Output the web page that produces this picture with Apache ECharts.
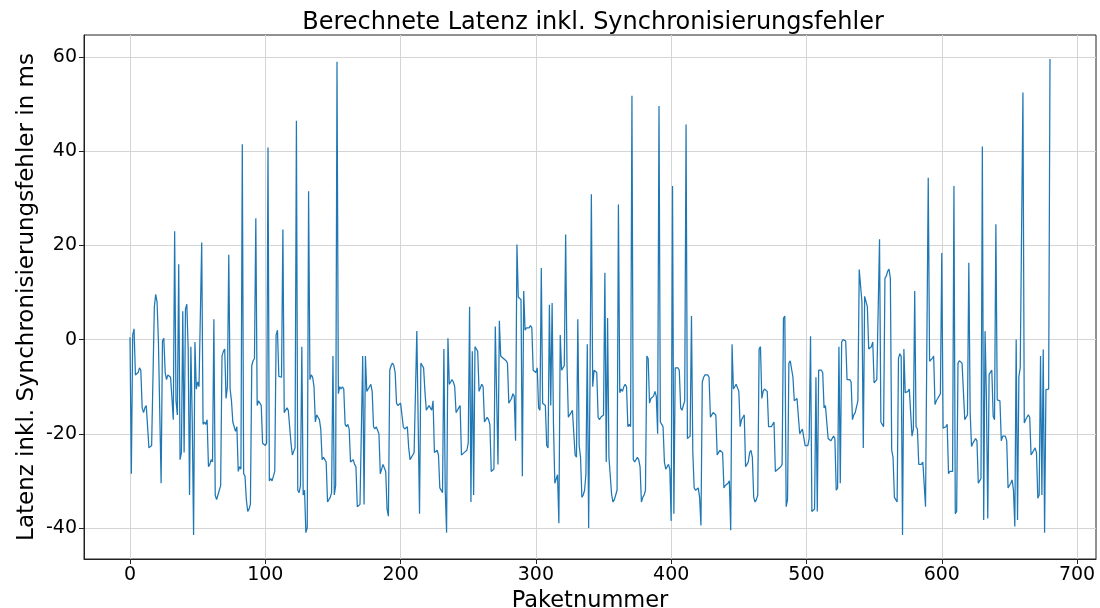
<!DOCTYPE html>
<html>
<head>
<meta charset="utf-8">
<script src="https://cdn.jsdelivr.net/npm/echarts@6/dist/echarts.min.js"></script>
<style>
  html, body { margin: 0; padding: 0; background: #fff; }
  #chart { width: 1100px; height: 608px; }
</style>
</head>
<body>
<div id="chart"></div>
<script>
// Latency per packet (ms), packets 0..680, in consecutive blocks
const latency000 = [
  0.5,-28.5,1,2.3,-7.5,-7.5,-7,-6,-6.5,-14.5,
  -15.5,-14.5,-14,-14,-23,-23,-22.5,-22.5,7,9.6,
  8,-0.3,-0.6,-30.5,-0.3,0.3,-7,-8.5,-7.5,-7.5,
  -8,-8,-17,23,-13,-16,16,-25.5,-24,6,
  -24,6.5,7.5,-2,-33,-1.5,-17,-41.5,-0.5,-10.5,
  -9,-10,-10,20.6,-18
];
const latency055 = [
  -17.5,-18,-17,-27,-26.5,-25.5,-26,4.3,-33,-34,
  -33,-32,-31,-3.5,-2.5,-2,-12.5,-10,18,-10.5,
  -13,-17.5,-18.5,-19.5,-18.5,-28,-27,-27.5,41.5,-28.5,
  -29,-34,-36.5,-36,-35,-5.5,-4.5,-4,25.8,-14,
  -13,-13.5,-14,-22,-22,-22.5,-22,40.8,-30,-29.5,
  -30,-29,-28,1,2,-7.8
];
const latency111 = [
  -7.5,-8,23.4,-15.5,-15,-14.5,-15,-15,-22,-24.5,
  -24.5,-23,46.5,-32,-32.5,-31,-1.5,-33,-32,-41,
  -40,31.5,-8.5,-7.5,-8,-10,-17.5,-16,-16.5,-17,
  -19,-25.5,-25,-25.5,-26,-34.5,-34.5,-33.5,-32.5,-3.5,
  -33,-31,59,-11.5,-10,-10.5,-10,-10.5,-18,-18.5,
  -18,-19,-26,-26,-25.5,-26.5
];
const latency167 = [
  -27,-35.5,-35.5,-35,-35,-3.5,-35,-3.5,-11,-11,
  -10,-9.5,-11,-18.5,-19,-18.5,-18.5,-20,-28.5,-27.5,
  -26.5,-26.5,-28,-36,-37.5,-6.5,-5.5,-5,-5.5,-7,
  -13.5,-14,-14,-13.5,-13.5,-18.5,-19,-19,-18.5,-23,
  -25.5,-25.5,-24.5,-24,-24,1.8,2,-37,-5,-5.5,
  -6,-11,-15,-14.5,-14,-14.5,-15
];
const latency224 = [
  -13,-24,-24,-23.5,-24.5,-31.5,-31.5,-32.5,-2,-32,
  -41,0.3,-9.5,-9,-8.5,-9,-10,-15.5,-15,-14.5,
  -14,-24.5,-24.5,-24,-24,-23.5,-22,7,-34.5,-2.5,
  -33,-1.5,-2,-2.5,-11,-11,-9.5,-10,-17.5,-17,
  -16.5,-17,-18,-28,-28,-27.5,2.8,3,-26.5,4,
  -3.5,-3.5,-4,-4,-4.5,-5,-13.5
];
const latency281 = [
  -13.5,-12.5,-11.5,-12,-21.5,20.2,9,9.2,8.5,-29,
  10.3,2,2.5,2.5,2.5,3,2.5,-6.5,-6.5,-7,
  -6,-14.5,-15,15.2,-13.5,-13.5,-14,-22.5,-23,7.4,
  -14,7.8,-18,-30.5,-30.5,-28.7,-39,1,-6.5,-6,
  -5.5,22.3,-5.3,-16.5,-16,-15.5,-15,-15,-24.5,-25,
  4.3,-22.5,-25,-33.5,-33,-32,-28.5
];
const latency338 = [
  -1,-40,-9,30.9,-10,-6.5,-6.5,-7,-16.5,-17,
  -16.5,-16.5,-16,14.2,-26,4.6,-25,-25,-33,-34.5,
  -34,-33,-32,28.7,-11.3,-10.5,-11,-10,-9.5,-10,
  -18.5,-18,-18.5,51.8,-25.5,-26,-25.5,-25,-25.5,-27,
  -34.5,-33.5,-33,-32,-3.5,-4,-13.5,-12.5,-12.5,-12,
  -11,-12,-20,49.6,-17.5,-18,-18.5,-26
];
const latency396 = [
  -27.5,-27,-26.5,-27.5,-38.5,32.6,-37,-6,-6,-6,
  -6.5,-14.5,-15,-14,-13,45.7,-21,-21,-20.5,5,
  -24,-31.5,-32,-32,-31.5,-33.5,-39.5,-9,-8,-7.5,
  -7.5,-7.5,-8,-16.5,-16,-15.5,-15.5,-16,-24.5,-24,
  -23.5,-23.5,-24,-31.5,-31,-31,-30.5,-30,-40.5,-1,
  -10.5,-10,-9.5,-9.5,-11,-18.5
];
const latency452 = [
  -17,-16.5,-16,-27,-26.5,-26,-24,-23.5,-25,-33.5,
  -34.5,-34,-33,-2,-1.5,-12.5,-11,-10.5,-10.5,-11,
  -18.5,-18.5,-18.5,-18,-17.5,-28,-28,-27.5,-27.5,-27,
  -26.5,4.5,5,-35.5,-34,-5,-4.5,-4.5,-8,-13,
  -13,-12.5,-12.5,-20,-19.5,-19,-19,-22.5,-22.5,-22.5,
  -21,0.7,-36.5,-36.5,-36,-8
];
const latency508 = [
  -36.5,-6.5,-6.5,-6.5,-7,-14.5,-14,-14,-21,-21,
  -21.5,-21,-20.5,-21,-32,-31.5,-1.5,-30.5,-0.5,0,
  0,-0.3,-8.5,-8.5,-8.5,-9,-17,-16,-15.5,-15.5,
  -13,14.9,15.2,8,-23,9.2,9.6,7,-2,-2,
  -1.5,-0.5,-9.2,-9,-8.5,-8.5,21.3,-17.5,-18,-18.5,
  13,13.5,14.5,15,13,-23.5,-25
];
const latency565 = [
  -33.5,-34,-34.5,-4,-3,-3.5,-41.5,-2,-11.3,-11,
  -11,-10.5,-10.5,-20.5,-19,10.3,-18.5,-19,-26.5,-26.5,
  -26.5,-26,-26,-35.5,-35.5,34.4,-4.6,-4.3,-4,-3.5,
  -13.8,-13,-12.5,-12,-11.5,18.4,-18.8,-19,-18.5,-18,
  -28.5,-28,-28,-28,32.6,-37,-36.5,-5,-4.5,-4.5,
  -5,-11,-17,-16.5,-16,16.3,-15.6,-22.7
];
const latency623 = [
  -22,-21.5,-21,-21.5,-30.5,-30,-29.5,41,-38.3,1.8,
  -12,-38,-7.4,-7,-6.5,-16.3,-17,24.5,-12.8,-13,
  -13,-21.5,-20.5,-20.5,-20.5,-21.5,-31.5,-31,-30.5,-29.8,
  -32,-39.7,0,-38.3,-7.8,-6,-6,52.5,-17.7,-17,
  -16.5,-16,-16.5,-24.5,-24,-23.5,-23,-24,-33.7,-33,
  -3.5,-33,-2.1,-41,-10.6,-10.3,-10.5,59.6
];

const xTicks = [0, 100, 200, 300, 400, 500, 600, 700];
const yTicks = [-40, -20, 0, 20, 40, 60];

const latency = [].concat(
  latency000, latency055, latency111, latency167, latency224, latency281,
  latency338, latency396, latency452, latency508, latency565, latency623
);
const points = latency.map((v, i) => [i, v]);

const FONT = 'DejaVu Sans';
const chart = echarts.init(document.getElementById('chart'), null, { renderer: 'canvas' });

chart.setOption({
  backgroundColor: '#ffffff',
  animation: false,
  title: {
    text: 'Berechnete Latenz inkl. Synchronisierungsfehler',
    left: 588,
    top: 6,
    textAlign: 'center',
    textStyle: { fontFamily: FONT, fontSize: 24, fontWeight: 'normal', color: '#000' }
  },
  // vertical axis title, placed directly
  graphic: [{
    type: 'text',
    x: 27,
    y: 297,
    rotation: Math.PI / 2,
    style: {
      text: 'Latenz inkl. Synchronisierungsfehler in ms',
      font: '23px "DejaVu Sans"',
      fill: '#000',
      align: 'center',
      verticalAlign: 'middle'
    }
  }],
  grid: {
    left: 84, top: 35, width: 1012, height: 524,
    outerBoundsMode: 'none',
    containLabel: false,
    show: true, borderColor: '#222', borderWidth: 1, backgroundColor: 'transparent'
  },
  xAxis: {
    type: 'value',
    min: -34, max: 714,
    name: 'Paketnummer',
    nameLocation: 'middle',
    nameGap: 28,
    nameTextStyle: { fontFamily: FONT, fontSize: 22.5, color: '#000' },
    axisLine: { show: true, onZero: false, lineStyle: { color: '#222', width: 1 } },
    axisTick: { show: true, customValues: xTicks, length: 5, lineStyle: { color: '#222' } },
    axisLabel: { customValues: xTicks, fontFamily: FONT, fontSize: 19, color: '#000', margin: 7 },
    splitLine: { show: true, lineStyle: { color: '#d5d5d5', width: 1 } }
  },
  yAxis: {
    type: 'value',
    min: -46.6, max: 64.7,
    axisLine: { show: true, onZero: false, lineStyle: { color: '#222', width: 1 } },
    axisTick: { show: true, customValues: yTicks, length: 5, lineStyle: { color: '#222' } },
    axisLabel: { customValues: yTicks, fontFamily: FONT, fontSize: 19, color: '#000', margin: 7 },
    splitLine: { show: true, lineStyle: { color: '#d5d5d5', width: 1 } }
  },
  series: [{
    type: 'line',
    data: points,
    showSymbol: false,
    symbol: 'none',
    lineStyle: { color: '#1f77b4', width: 1.25 },
    itemStyle: { color: '#1f77b4' }
  }]
});
</script>
</body>
</html>
